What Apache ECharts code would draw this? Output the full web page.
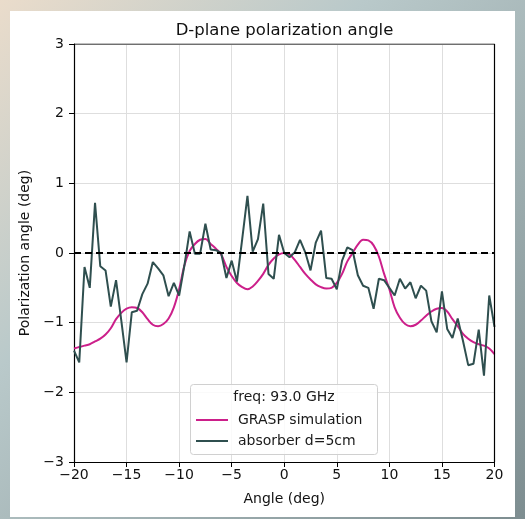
<!DOCTYPE html>
<html>
<head>
<meta charset="utf-8">
<script src="https://cdn.jsdelivr.net/npm/echarts@6/dist/echarts.min.js"></script>
<style>
  html, body { margin: 0; padding: 0; }
  #chart { width: 525px; height: 519px; }
</style>
</head>
<body>
<div id="chart"></div>
<script>
// Scan angles (deg), 0.5 deg steps from -20 to 20
const angles = [
  -20, -19.5, -19, -18.5, -18, -17.5, -17, -16.5, -16, -15.5,
  -15, -14.5, -14, -13.5, -13, -12.5, -12, -11.5, -11, -10.5,
  -10, -9.5, -9, -8.5, -8, -7.5, -7, -6.5, -6, -5.5,
  -5, -4.5, -4, -3.5, -3, -2.5, -2, -1.5, -1, -0.5,
  0, 0.5, 1, 1.5, 2, 2.5, 3, 3.5, 4, 4.5,
  5, 5.5, 6, 6.5, 7, 7.5, 8, 8.5, 9, 9.5,
  10, 10.5, 11, 11.5, 12, 12.5, 13, 13.5, 14, 14.5,
  15, 15.5, 16, 16.5, 17, 17.5, 18, 18.5, 19, 19.5, 20
];

// GRASP simulated polarization angle (deg)
const graspSim = [
  -1.37, -1.35, -1.33, -1.31, -1.27, -1.23, -1.17, -1.08, -0.95, -0.86,
  -0.80, -0.78, -0.79, -0.85, -0.95, -1.03, -1.05, -1.02, -0.94, -0.78,
  -0.52, -0.18, 0.03, 0.13, 0.19, 0.20, 0.13, 0.06, -0.02, -0.20,
  -0.33, -0.43, -0.49, -0.52, -0.48, -0.40, -0.30, -0.17, -0.08, -0.02,
  0.00, -0.02, -0.10, -0.20, -0.30, -0.38, -0.45, -0.49, -0.51, -0.50,
  -0.43, -0.30, -0.12, 0.00, 0.12, 0.19, 0.18, 0.11, -0.05, -0.30,
  -0.52, -0.78, -0.93, -1.02, -1.05, -1.03, -0.97, -0.90, -0.84, -0.80,
  -0.79, -0.84, -0.95, -1.05, -1.16, -1.23, -1.28, -1.31, -1.33, -1.37, -1.45
];

// Measured polarization angle with absorber at d = 5 cm (deg)
const absorber5cm = [
  -1.40, -1.57, -0.20, -0.50, 0.72, -0.19, -0.25, -0.77, -0.39, -0.97,
  -1.57, -0.85, -0.83, -0.59, -0.44, -0.13, -0.22, -0.32, -0.62, -0.43,
  -0.61, -0.18, 0.31, -0.01, -0.01, 0.42, 0.05, 0.04, 0.00, -0.36,
  -0.11, -0.41, 0.20, 0.82, 0.02, 0.20, 0.71, -0.30, -0.37, 0.26,
  0.00, -0.06, 0.01, 0.19, 0.01, -0.25, 0.15, 0.32, -0.36, -0.37,
  -0.52, -0.11, 0.08, 0.04, -0.32, -0.47, -0.50, -0.80, -0.37, -0.39,
  -0.50, -0.61, -0.37, -0.51, -0.42, -0.65, -0.47, -0.54, -0.98, -1.14,
  -0.55, -1.09, -1.22, -0.94, -1.26, -1.61, -1.59, -1.10, -1.76, -0.61, -1.06
];

const xTicks = [-20, -15, -10, -5, 0, 5, 10, 15, 20];
const yTicks = [-3, -2, -1, 0, 1, 2, 3];

const legendTitle = 'freq: 93.0 GHz';
const seriesNames = ['GRASP simulation', 'absorber d=5cm'];

const FONT = '"DejaVu Sans", sans-serif';
const fmt = v => (v < 0 ? '\u2212' + Math.abs(v) : String(v));

const pairs = ys => angles.map((a, i) => [a, ys[i]]);

const chart = echarts.init(document.getElementById('chart'), null, { renderer: 'canvas' });

chart.setOption({
  animation: false,
  backgroundColor: {
    type: 'linear', x: 0, y: 0, x2: 1, y2: 1,
    colorStops: [
      { offset: 0, color: '#eadccb' },
      { offset: 0.35, color: '#b9c9ca' },
      { offset: 0.7, color: '#9aaaac' },
      { offset: 1, color: '#7d8d90' }
    ]
  },
  graphic: [
    { type: 'rect', z: -10, shape: { x: 10, y: 11, width: 505, height: 506 }, style: { fill: '#ffffff' } },
    {
      type: 'rect', z: 50,
      shape: { x: 190.5, y: 384.5, width: 187, height: 70, r: 3 },
      style: { fill: 'rgba(255,255,255,0.85)', stroke: '#d0d0d0', lineWidth: 1 }
    },
    {
      type: 'text', z: 51, x: 284, y: 397,
      style: { text: legendTitle, font: '14px ' + FONT, fill: '#1a1a1a', textAlign: 'center', textVerticalAlign: 'middle' }
    },
    {
      type: 'text', z: 51, x: 284.5, y: 30.5,
      style: { text: 'D-plane polarization angle', font: '16.5px ' + FONT, fill: '#111', textAlign: 'center', textVerticalAlign: 'middle' }
    }
  ],
  legend: {
    data: seriesNames,
    orient: 'vertical',
    left: 191,
    top: 408,
    z: 52,
    itemWidth: 32,
    itemHeight: 2,
    itemGap: 7,
    icon: 'rect',
    textStyle: { fontFamily: FONT, fontSize: 14, color: '#1a1a1a', padding: [0, 0, 0, 5] }
  },
  grid: { left: 74, right: 30.5, top: 44, bottom: 57, containLabel: false },
  xAxis: {
    type: 'value', min: -20, max: 20, interval: 5,
    name: 'Angle (deg)', nameLocation: 'middle', nameGap: 30,
    nameTextStyle: { fontFamily: FONT, fontSize: 14, color: '#111' },
    axisLine: { show: true, onZero: false, lineStyle: { color: '#000', width: 1.2 } },
    axisTick: { show: true, length: 5, lineStyle: { color: '#000', width: 1 } },
    axisLabel: { fontFamily: FONT, fontSize: 14, color: '#111', margin: 6, formatter: v => fmt(v),
      customValues: xTicks },
    splitLine: { show: true, lineStyle: { color: '#dedede', width: 1 } }
  },
  yAxis: {
    type: 'value', min: -3, max: 3, interval: 1,
    name: 'Polarization angle (deg)', nameLocation: 'middle', nameGap: 41,
    nameTextStyle: { fontFamily: FONT, fontSize: 14, color: '#111' },
    axisLine: { show: true, onZero: false, lineStyle: { color: '#000', width: 1.2 } },
    axisTick: { show: true, length: 5, lineStyle: { color: '#000', width: 1 } },
    axisLabel: { fontFamily: FONT, fontSize: 14, color: '#111', margin: 10, formatter: v => fmt(v),
      customValues: yTicks },
    splitLine: { show: true, lineStyle: { color: '#dedede', width: 1 } }
  },
  series: [
    {
      name: seriesNames[0], type: 'line', data: pairs(graspSim),
      showSymbol: false, smooth: 0.35, z: 3,
      lineStyle: { color: '#cc1f8a', width: 2 }, itemStyle: { color: '#cc1f8a' },
      markLine: {
        silent: true, symbol: 'none', label: { show: false },
        lineStyle: { color: '#000', type: [7, 4], width: 2 },
        data: [{ yAxis: 0 }]
      }
    },
    {
      name: seriesNames[1], type: 'line', data: pairs(absorber5cm),
      showSymbol: false, z: 4,
      lineStyle: { color: '#2f4f4f', width: 2 }, itemStyle: { color: '#2f4f4f' }
    },
    {
      // right and top frame of the axes box
      type: 'line', data: [[20, -3], [20, 3], [-20, 3]], showSymbol: false, silent: true,
      lineStyle: { color: '#000', width: 1.2 }, z: 5, legendHoverLink: false, tooltip: { show: false }
    }
  ]
});
</script>
</body>
</html>
